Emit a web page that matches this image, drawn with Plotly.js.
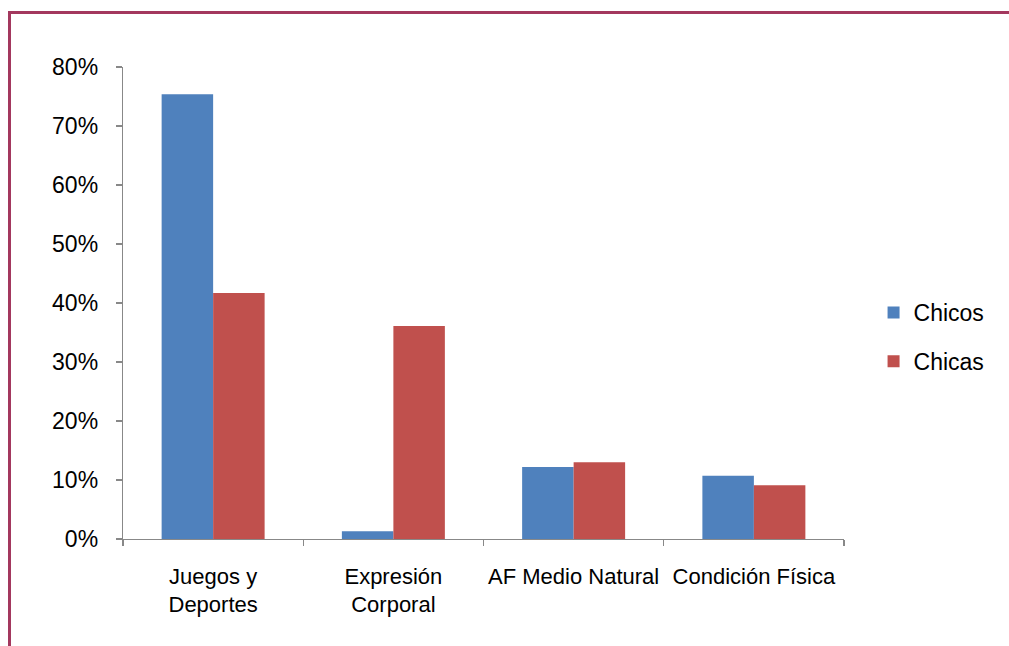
<!DOCTYPE html>
<html>
<head>
<meta charset="utf-8">
<script src="https://cdn.plot.ly/plotly-3.0.1.min.js"></script>
<style>
html,body{margin:0;padding:0;background:#fff;}
#chart{width:1009px;height:646px;position:relative;}
#frame{position:absolute;left:8px;top:11px;width:1001px;height:635px;border-top:3px solid #A3385E;border-left:3px solid #A3385E;box-sizing:border-box;pointer-events:none;z-index:5;}
</style>
</head>
<body>
<div id="chart"></div>
<div id="frame"></div>
<script>
const categories = ["Juegos y<br>Deportes", "Expresión<br>Corporal", "AF Medio Natural", "Condición Física"];
const chicos = [0.754, 0.013, 0.122, 0.107];
const chicas = [0.417, 0.361, 0.130, 0.091];
const yTicks = [0, 0.1, 0.2, 0.3, 0.4, 0.5, 0.6, 0.7, 0.8];

const fontFam = '"Liberation Sans", Arial, sans-serif';

const data = [
  {type: 'bar', name: 'Chicos', x: categories, y: chicos, marker: {color: '#4F81BD'}, legendgroup: 'a', hoverinfo: 'none'},
  {type: 'bar', name: 'Chicas', x: categories, y: chicas, marker: {color: '#C0504D'}, legendgroup: 'b', hoverinfo: 'none'}
];

const layout = {
  width: 1009, height: 646,
  margin: {l: 123, r: 165, t: 67, b: 107},
  paper_bgcolor: '#ffffff', plot_bgcolor: '#ffffff',
  font: {family: fontFam, size: 23, color: '#000'},
  barmode: 'group', bargap: 0.4286, bargroupgap: 0,
  showlegend: true,
  legend: {x: 1.041, xanchor: 'left', y: 0.428, yanchor: 'middle', traceorder: 'grouped', tracegroupgap: 16,
           font: {family: fontFam, size: 23}, itemwidth: 30},
  xaxis: {
    showline: true, linecolor: '#888', linewidth: 1.3,
    ticks: 'outside', tickson: 'boundaries', ticklen: 6, tickcolor: '#888', tickwidth: 1.3,
    tickangle: 0, automargin: false,
    ticklabelstandoff: 17,
    showgrid: false, zeroline: false, fixedrange: true,
    tickfont: {family: fontFam, size: 22}
  },
  yaxis: {
    range: [0, 0.8], tickvals: yTicks, tickformat: '.0%',
    showline: true, linecolor: '#888', linewidth: 1.3,
    ticks: 'outside', ticklen: 6, tickcolor: '#888', tickwidth: 1.3,
    ticklabelstandoff: 13,
    showgrid: false, zeroline: false, fixedrange: true,
    tickfont: {family: fontFam, size: 23}
  }
};

Plotly.newPlot('chart', data, layout, {staticPlot: true});
</script>
</body>
</html>
